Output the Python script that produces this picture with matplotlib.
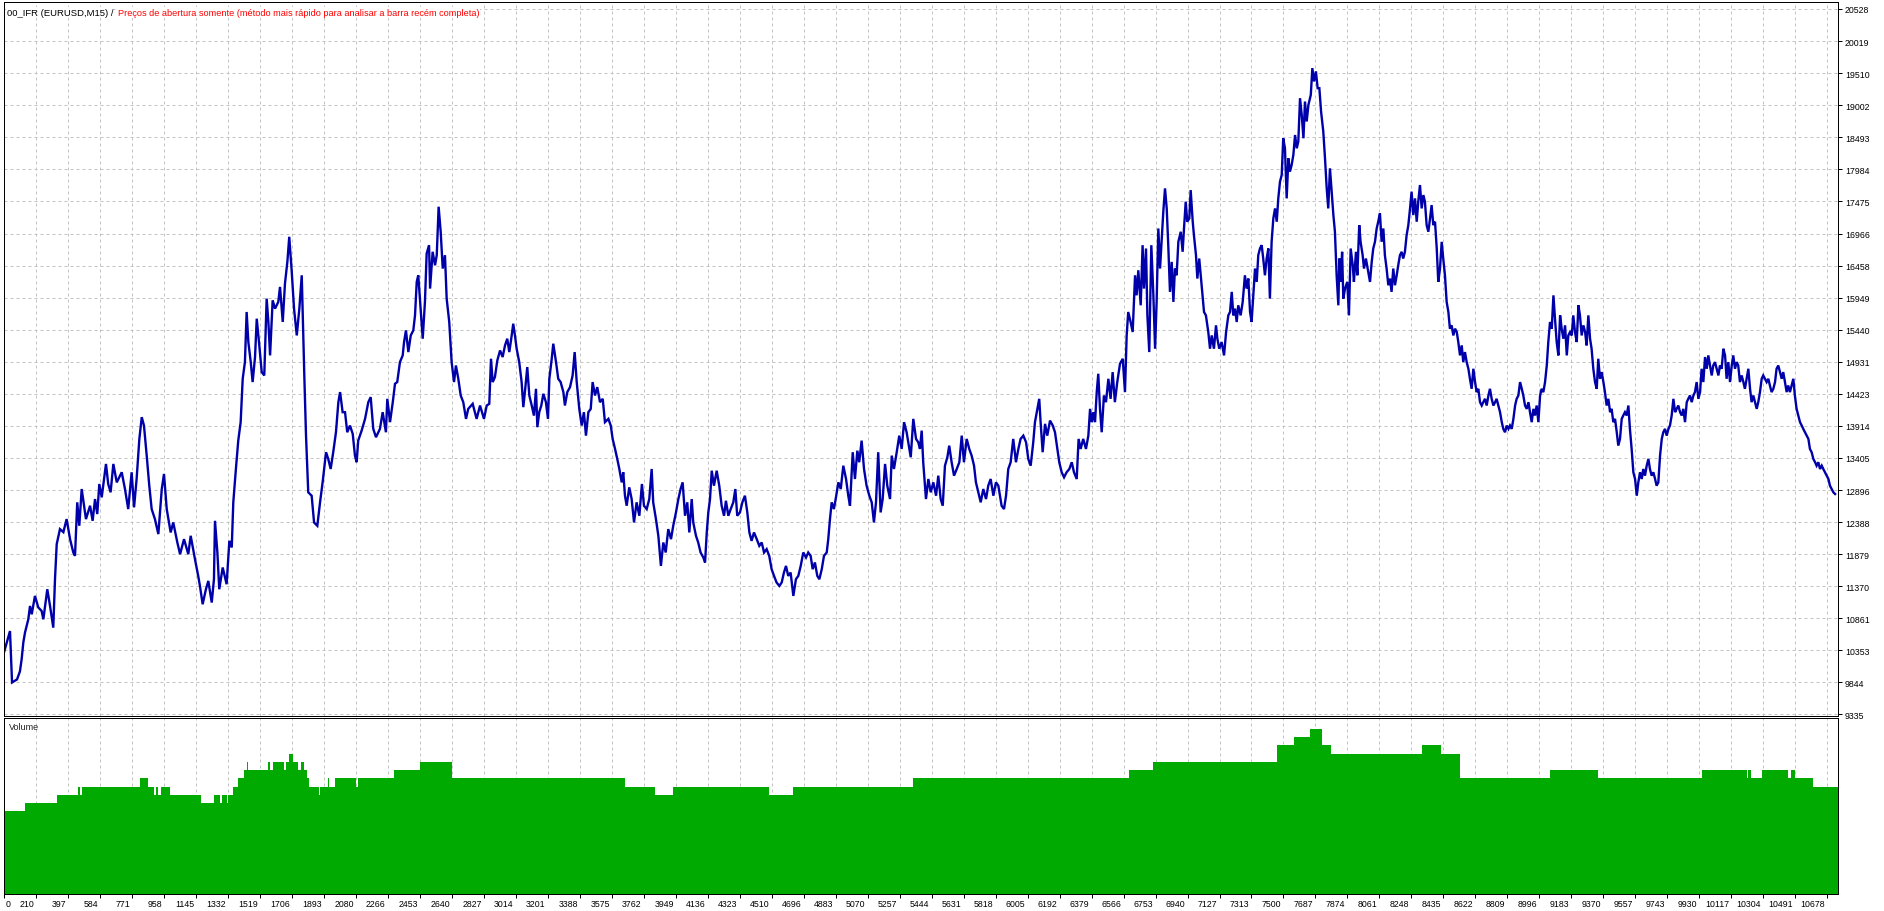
import numpy as np
import matplotlib
matplotlib.use("Agg")
import matplotlib.pyplot as plt
import matplotlib.transforms as mtransforms

# Equity curve: bar number and balance
bars = [
    23, 58, 70, 99, 116, 126, 136, 146, 165, 175,
    185, 204, 223, 243, 253, 276, 292, 311, 321, 331,
    350, 370, 389, 409, 428, 438, 451, 463, 477, 502,
    526, 541, 555, 568, 580, 594, 619, 632, 646, 662,
    682, 711, 730, 749, 769, 783, 798, 814, 828, 841,
    857, 872, 886, 905, 925, 945, 958, 974, 997, 1012,
    1036, 1052, 1075, 1100, 1114, 1139, 1158, 1168, 1184, 1203,
    1217, 1237, 1250, 1256, 1270, 1281, 1301, 1324, 1340, 1354,
    1363, 1379, 1392, 1406, 1418, 1431, 1441, 1451, 1465, 1476,
    1490, 1500, 1515, 1529, 1544, 1558, 1568, 1578, 1593, 1607,
    1626, 1636, 1652, 1665, 1679, 1690, 1704, 1718, 1734, 1749,
    1763, 1772, 1778, 1788, 1801, 1821, 1835, 1854, 1870, 1885,
    1905, 1918, 1932, 1947, 1963, 1977, 1987, 2002, 2016, 2029,
    2045, 2061, 2074, 2084, 2093, 2113, 2133, 2152, 2166, 2181,
    2197, 2220, 2236, 2255, 2263, 2279, 2295, 2308, 2321, 2337,
    2353, 2361, 2372, 2386, 2400, 2415, 2425, 2435, 2444, 2458,
    2470, 2483, 2493, 2507, 2513, 2528, 2542, 2552, 2563, 2575,
    2587, 2600, 2610, 2625, 2639, 2653, 2664, 2678, 2692, 2707,
    2723, 2736,
    2762, 2785, 2805, 2828, 2844, 2859, 2869, 2879, 2892, 2906,
    2922, 2937, 2951, 2964, 2976, 2990, 2999, 3009, 3019, 3034,
    3048, 3058, 3069, 3081, 3093, 3107, 3120, 3132, 3140, 3151,
    3163, 3175, 3190, 3202, 3210, 3224, 3233, 3249, 3262, 3276,
    3292, 3301, 3315, 3331, 3346, 3358, 3370, 3385, 3399, 3412,
    3424, 3438, 3452, 3463, 3477, 3490, 3506, 3522, 3535, 3555,
    3569, 3580, 3594, 3607, 3619, 3633, 3642, 3652, 3662, 3677,
    3691, 3705, 3720, 3736, 3751, 3763, 3779, 3794, 3808, 3817,
    3833, 3847, 3862, 3876, 3890, 3905, 3921, 3934, 3950, 3964,
    3977, 3989, 4003, 4016, 4028, 4042, 4051, 4067, 4080, 4094,
    4110, 4120, 4130, 4139, 4149, 4159, 4172, 4188, 4203, 4217,
    4231, 4242, 4256, 4270, 4285, 4297, 4308, 4324, 4338, 4353,
    4367, 4379, 4392, 4406, 4422, 4437, 4451, 4465, 4480, 4495,
    4509, 4523, 4538, 4554, 4568, 4581, 4593, 4606, 4620, 4636,
    4651, 4665, 4679, 4694, 4710, 4723, 4737, 4749, 4762, 4776,
    4788, 4802, 4815, 4831, 4840, 4850, 4860, 4873, 4885, 4899,
    4913, 4928, 4944, 4957, 4967, 4983, 4996, 5010, 5021, 5035,
    5049, 5064, 5080, 5094, 5107, 5119, 5132, 5146, 5158, 5172,
    5185, 5201, 5211, 5224, 5240, 5255, 5269, 5283, 5298, 5314,
    5322, 5337, 5353, 5366,
    5376, 5386, 5395, 5411, 5425, 5439, 5454, 5470, 5483, 5497,
    5509, 5522, 5536, 5547, 5561, 5575, 5591, 5606, 5620, 5633,
    5649, 5664, 5678, 5692, 5703, 5717, 5731, 5746, 5762, 5775,
    5789, 5805, 5820, 5834, 5853, 5867, 5879, 5892, 5906, 5921,
    5937, 5951, 5964, 5980, 5996, 6009, 6023, 6038, 6048, 6062,
    6073, 6081, 6093, 6107, 6120, 6136, 6152, 6165, 6179, 6190,
    6204, 6218, 6233, 6249, 6263, 6276, 6292, 6303, 6315, 6330,
    6346, 6360, 6370, 6380, 6389, 6399, 6409, 6418, 6428, 6438,
    6451, 6463, 6477, 6490, 6502, 6515, 6529, 6545, 6561, 6574,
    6584, 6593, 6607, 6619, 6633, 6642, 6652, 6666, 6677, 6685,
    6697, 6705, 6716, 6728, 6740, 6750, 6759, 6769, 6779, 6788,
    6798, 6808, 6818, 6827, 6837, 6847, 6857, 6866, 6876, 6886,
    6900, 6911, 6919, 6929, 6938, 6950, 6958, 6970, 6977, 6989,
    6997, 7008, 7022, 7036, 7047, 7061, 7071, 7081, 7094, 7106,
    7114, 7125, 7139, 7153, 7165, 7178, 7188, 7198, 7207, 7217,
    7227, 7236, 7250, 7262, 7275, 7285, 7295, 7305, 7314, 7324,
    7334, 7344, 7353, 7363, 7373, 7382, 7392, 7402, 7412, 7421,
    7431, 7441, 7451, 7461, 7470, 7480, 7490, 7499, 7509, 7519,
    7529, 7538, 7548, 7558, 7568, 7578, 7587, 7597, 7607, 7617,
    7626, 7636, 7646, 7660, 7669, 7679, 7690, 7700, 7710, 7720,
    7733, 7743, 7753, 7762, 7772, 7782, 7792, 7801, 7811, 7821,
    7827, 7835, 7843, 7850, 7860, 7873, 7883, 7893, 7905, 7912,
    7924, 7932, 7943, 7951, 7963, 7971, 7982, 7996, 8006, 8016,
    8025, 8035, 8045, 8054, 8064,
    8074, 8084, 8093, 8103, 8113, 8123, 8132, 8142, 8152, 8162,
    8171, 8181, 8191, 8200, 8210, 8220, 8230, 8240, 8249, 8259,
    8269, 8279, 8288, 8298, 8308, 8318, 8327, 8337, 8347, 8357,
    8366, 8376, 8386, 8396, 8405, 8415, 8425, 8434, 8444, 8454,
    8464, 8473, 8483, 8493, 8503, 8513, 8522, 8532, 8542, 8551,
    8561, 8571, 8581, 8590, 8600, 8610, 8620, 8629, 8639, 8649,
    8659, 8668, 8678, 8688, 8698, 8707, 8717, 8727, 8737, 8746,
    8756, 8766, 8776, 8785, 8795, 8805, 8815, 8824, 8834, 8844,
    8854, 8863, 8873, 8883, 8893, 8902, 8912, 8922, 8932, 8941,
    8951, 8961, 8970, 8980, 8990, 9000, 9009, 9019, 9029, 9039,
    9048, 9058, 9068, 9078, 9087, 9097, 9107, 9117, 9126, 9136,
    9146, 9156, 9165, 9175, 9185, 9194, 9204, 9214, 9224, 9233,
    9243, 9253, 9263, 9272, 9282, 9292, 9301, 9311, 9321, 9331,
    9340, 9350, 9360, 9370, 9379, 9389, 9399, 9409, 9418, 9428,
    9438, 9448, 9457, 9467, 9477, 9486, 9496, 9506, 9516, 9525,
    9535, 9545, 9555, 9565, 9574, 9584, 9594, 9603, 9613, 9623,
    9633, 9642, 9652, 9662, 9672, 9681, 9691, 9701, 9711, 9720,
    9730, 9740, 9750, 9759, 9769, 9779, 9789, 9798, 9808, 9818,
    9828, 9837, 9847, 9857, 9866, 9876, 9886, 9896, 9905, 9915,
    9925, 9935, 9944, 9954, 9964, 9974, 9983, 9993, 10003, 10012,
    10022, 10032, 10042, 10051, 10061, 10071, 10081, 10090, 10100, 10110,
    10120, 10129, 10139, 10149, 10158, 10168, 10178, 10188, 10197, 10207,
    10217, 10227, 10236, 10246, 10256, 10266, 10275, 10285, 10295, 10304,
    10314, 10324, 10334, 10343, 10353, 10363, 10373, 10382, 10392, 10402,
    10412, 10421, 10431, 10441, 10450, 10460, 10470, 10480, 10489, 10499,
    10509, 10519, 10529, 10538, 10548, 10558, 10568, 10577, 10587, 10597,
    10607, 10616, 10626, 10636, 10646, 10655, 10665, 10675, 10685, 10694,
    10704, 10714, 10724,
]

equity = [
    10320, 10659, 9843, 9891, 10018, 10209, 10479, 10638, 10845, 11057,
    10925, 11216, 11036, 10977, 10845, 11322, 11057, 10713, 11481, 12037,
    12276, 12228, 12435, 12117, 11905, 11852, 12701, 12329, 12912, 12435,
    12647, 12408, 12753, 12515, 12992, 12780, 13310, 12992, 12860, 13310,
    13018, 13178, 12912, 12594, 13178, 12621, 13071, 13707, 14052, 13919,
    13442, 12965, 12594, 12435, 12197, 12912, 13151, 12594, 12223, 12382,
    12064, 11878, 12117, 11878, 12170, 11799, 11533, 11375, 11084, 11322,
    11454, 11111, 11481, 12408, 11905, 11322, 11667, 11402, 12090, 11985,
    12701, 13257, 13680, 13972, 14661, 14926, 15721, 15244, 14926, 14609,
    15006, 15615, 15191, 14768, 14714, 15933, 15563, 15032, 15906, 15774,
    15881, 16119, 15563, 16172, 16516, 16914, 16383, 15774, 15349, 15774,
    16303, 15349, 14714, 13759, 12860, 12806, 12382, 12329, 12701, 13018,
    13496, 13389, 13230, 13496, 13813, 14290, 14450, 14131, 14131, 13813,
    13919, 13787, 13442, 13337, 13680, 13839, 14025, 14290, 14370, 13866,
    13734, 13866, 14131, 13813, 14343, 13973, 14290, 14582, 14609, 14926,
    15032, 15244, 15429, 15085, 15349, 15429, 15667, 16199, 16303, 15774,
    15297, 15881, 16648, 16781, 16092, 16676, 16462, 16622, 17391, 16994,
    16410, 16622, 15933, 15563, 14926, 14609, 14872, 14661, 14396, 14290,
    14025, 14184,
    14264, 14025, 14237, 14025, 14237, 14264, 14979, 14609, 14688, 14952,
    15111, 15006, 15191, 15297, 15085, 15349, 15535, 15349, 15138, 14926,
    14609, 14211, 14502, 14847, 14396, 14237, 14077, 14502, 13893, 14131,
    14237, 14423, 14290, 14025, 14661, 14979, 15218, 14926, 14661, 14609,
    14450, 14237, 14450, 14529, 14714, 15085, 14609, 14184, 13919, 14131,
    13759, 14131, 14184, 14609, 14396, 14529, 14290, 14343, 13973, 14025,
    13919, 13707, 13548, 13389, 13230, 13018, 13178, 12806, 12647, 12939,
    12753, 12382, 12701, 12488, 12992, 12647, 12594, 12753, 13230, 12701,
    12435, 12170, 11692, 12064, 11905, 12276, 12117, 12329, 12541, 12753,
    12912, 13018, 12488, 12701, 12223, 12753, 12382, 12170, 12064, 11905,
    11826, 11747, 12223, 12541, 12753, 13203, 12965, 13203, 12965, 12647,
    12488, 12726, 12488, 12594, 12701, 12912, 12488, 12541, 12701, 12806,
    12541, 12223, 12090, 12223, 12117, 12011, 12064, 11905, 11958, 11852,
    11640, 11534, 11429, 11375, 11429, 11587, 11692, 11534, 11587, 11216,
    11481, 11534, 11692, 11905, 11826, 11905, 11852, 11640, 11747, 11534,
    11481, 11640, 11852, 11905, 12117, 12435, 12701, 12594, 12780, 13018,
    12912, 13282, 13071, 12806, 12647, 13496, 13071, 13521, 13337, 13680,
    13230, 12965, 12806, 12701, 12382, 12701, 13496, 12541, 12753, 13310,
    12965, 12753, 13442, 13230, 13496, 13759, 13548, 13973, 13813, 13548,
    13416, 14025, 13707, 13654,
    13548, 13839, 13337, 12753, 13071, 12860, 13018, 12806, 13124, 12753,
    12647, 13282, 13416, 13600, 13337, 13124, 13230, 13337, 13759, 13337,
    13707, 13548, 13442, 13282, 13018, 12860, 12701, 12912, 12753, 12965,
    13071, 12806, 13018, 12965, 12647, 12594, 12806, 13230, 13337, 13707,
    13337, 13548, 13707, 13759, 13654, 13389, 13282, 13654, 13973, 14184,
    14343, 13973, 13496, 13946, 13759, 13998, 13919, 13813, 13548, 13337,
    13178, 13098, 13178, 13230, 13337, 13178, 13071, 13707, 13548, 13707,
    13548, 13759, 14184, 13973, 14131, 13973, 14450, 14741, 14184, 13813,
    14396, 14290, 14661, 14343, 14767, 14290, 14609, 14900, 14979, 14450,
    15349, 15721, 15562, 15403, 16303, 15985, 16383, 15827, 16781, 16092,
    16728, 15667, 15085, 16781, 15985, 15138, 15881, 17046, 16410, 16835,
    17312, 17682, 17364, 16781, 16040, 16516, 15881, 16410, 16303, 16835,
    16994, 16676, 17046, 17471, 17153, 17205, 17655, 17153, 16940, 16622,
    16251, 16569, 16145, 15721, 15667, 15403, 15138, 15349, 15138, 15509,
    15297, 15138, 15244, 15032, 15403, 15667, 15721, 16040, 15667, 15774,
    15562, 15827, 15667, 15881, 16303, 16092, 16251, 15721, 15562, 15985,
    16410, 16198, 16622, 16728, 16781, 16569, 16303, 16569, 16728, 15933,
    16834, 17205, 17364, 17153, 17523, 17789, 17894, 18477, 18318, 17523,
    18159, 17947, 18053, 18212, 18529, 18318, 18425, 19113, 18847, 18477,
    19060, 18743, 19006, 19165, 19590, 19379, 19538, 19272, 19272, 18902,
    18584, 18159, 17682, 17364, 18000, 17630, 17258, 16994, 16303, 15827,
    16569, 16198, 16676, 15933, 16092, 16198, 15667, 16728, 16462, 16198,
    16676, 16303, 17099, 16834, 16622, 16410, 16569, 16357, 16198, 16516,
    16728, 16834, 17046, 17153, 17285,
    16835, 17046, 16622, 16410, 16145, 16251, 16040, 16410, 16145, 16303,
    16462, 16622, 16675, 16569, 16675, 16940, 17099, 17364, 17630, 17258,
    17523, 17153, 17471, 17735, 17364, 17576, 17471, 17099, 16994, 17205,
    17417, 17099, 17153, 16728, 16198, 16410, 16834, 16569, 16303, 15881,
    15721, 15456, 15509, 15349, 15456, 15403, 15244, 15032, 15191, 14926,
    15085, 14926, 14820, 14661, 14502, 14820, 14609, 14450, 14502, 14290,
    14237, 14290, 14343, 14237, 14396, 14502, 14343, 14237, 14290, 14343,
    14237, 14131, 13973, 13866, 13813, 13919, 13866, 13919, 13866, 14025,
    14237, 14343, 14396, 14609, 14502, 14396, 14237, 14184, 14290, 14131,
    13973, 14184, 14078, 14237, 13973, 14396, 14502, 14449, 14609, 14872,
    15244, 15562, 15456, 15985, 15615, 15244, 15032, 15667, 15456, 15297,
    15509, 15032, 15349, 15403, 15349, 15667, 15403, 15244, 15827, 15667,
    15349, 15509, 15403, 15191, 15667, 15297, 15138, 14820, 14609, 14502,
    14979, 14661, 14767, 14609, 14450, 14237, 14343, 14131, 14184, 13973,
    14025, 13813, 13601, 13707, 14025, 14078, 14131, 14078, 14237, 13866,
    13548, 13178, 13071, 12806, 13018, 13178, 13071, 13230, 13124, 13282,
    13389, 13230, 13124, 13178, 13071, 12965, 13018, 13442, 13707, 13813,
    13866, 13759, 13866, 13919, 14078, 14343, 14131, 14184, 14237, 14131,
    14078, 14184, 13973, 14290, 14343, 14396, 14290, 14396, 14450, 14609,
    14343, 14450, 14820, 14609, 15006, 14820, 15032, 14872, 14714, 14872,
    14926, 14820, 14714, 14872, 14820, 15138, 15032, 14661, 14926, 14609,
    14872, 15032, 14820, 14926, 14872, 14609, 14714, 14609, 14502, 14661,
    14820, 14502, 14290, 14396, 14290, 14184, 14290, 14450, 14661, 14714,
    14661, 14609, 14661, 14555, 14450, 14502, 14609, 14820, 14872, 14767,
    14661, 14767, 14609, 14450, 14555, 14450, 14555, 14661, 14396, 14184,
    14078, 13973, 13919, 13866, 13813, 13759, 13707, 13548, 13496, 13389,
    13337, 13282, 13337, 13230, 13282, 13230, 13178, 13124, 13071, 12965,
    12912, 12860, 12833,
]

# Volume subwindow: bar where each level starts (last entry closes the run)
vol_edges = [
    23, 146, 334, 457, 469, 477, 818, 863, 900, 911,
    925, 941, 993, 1174, 1250, 1285, 1299, 1324, 1334, 1360,
    1392, 1427, 1445, 1451, 1568, 1578, 1597, 1661, 1669, 1687,
    1710, 1739, 1759, 1776, 1792, 1807, 1866, 1870, 1915, 1924,
    1957, 2080, 2094, 2304, 2454, 2641, 3652, 3827, 3933, 4494,
    4634, 5335, 6597, 6738, 7464, 7562, 7653, 7724, 7779, 8310,
    8420, 8531, 9058, 9338, 9944, 10207, 10217, 10231, 10295, 10447,
    10464, 10490, 10593, 10739,
]
vol_levels = [
    10, 11, 12, 13, 12, 13, 14, 13, 12, 13,
    12, 13, 12, 11, 12, 11, 12, 11, 12, 13,
    14, 15, 16, 15, 16, 15, 16, 15, 16, 17,
    16, 15, 16, 15, 14, 13, 12, 13, 14, 13,
    14, 13, 14, 15, 16, 14, 13, 12, 13, 12,
    13, 14, 15, 16, 18, 19, 20, 18, 17, 18,
    17, 14, 15, 14, 15, 14, 15, 14, 15, 14,
    15, 14, 13,
]

price_ticks = [9335, 9844, 10353, 10861, 11370, 11879, 12388, 12896, 13405,
               13914, 14423, 14931, 15440, 15949, 16458, 16966, 17475, 17984,
               18493, 19002, 19510, 20019, 20528]
bar_ticks = [0, 210, 397, 584, 771, 958, 1145, 1332, 1519, 1706, 1893, 2080,
             2266, 2453, 2640, 2827, 3014, 3201, 3388, 3575, 3762, 3949, 4136,
             4323, 4510, 4696, 4883, 5070, 5257, 5444, 5631, 5818, 6005, 6192,
             6379, 6566, 6753, 6940, 7127, 7313, 7500, 7687, 7874, 8061, 8248,
             8435, 8622, 8809, 8996, 9183, 9370, 9557, 9743, 9930, 10117, 10304,
             10491, 10678]

title_main = "00_IFR (EURUSD,M15) /"
title_note = "Preços de abertura somente (método mais rápido para analisar a barra recém completa)"

plt.rcParams["font.family"] = "Liberation Sans"
plt.rcParams["axes.linewidth"] = 0.72

W, H = 1884, 912
fig = plt.figure(figsize=(W / 100, H / 100), dpi=100)
fig.patch.set_facecolor("white")

def px_axes(x0, y0, x1, y1):
    return fig.add_axes([x0 / W, 1 - y1 / H, (x1 - x0) / W, (y1 - y0) / H])

ax = px_axes(4, 3, 1838, 717)
axv = px_axes(4, 719, 1838, 895)

xmin, xmax = 23, 10741
grid_kw = dict(color="#c4c4c4", linestyle=(0, (3, 3)), linewidth=0.72)

# ---- equity panel
ax.plot(bars, equity, color="#0000aa", lw=1.7, solid_joinstyle="miter")
ax.set_xlim(xmin, xmax)
ax.set_ylim(9311, 20639)
ax.yaxis.tick_right()
ax.set_yticks(price_ticks)
ax.set_yticklabels([str(v) for v in price_ticks])
ax.tick_params(axis="y", direction="out", length=3, width=0.72, pad=2,
               labelsize=6.3, colors="black")
xpos = [xmin] + bar_ticks[1:]
ax.set_xticks(xpos)
ax.tick_params(axis="x", length=0, labelbottom=False)
ax.grid(True, **grid_kw)
ax.set_axisbelow(True)
for s in ax.spines.values():
    s.set_color("black")

# ---- volume panel
axv.stairs(vol_levels, vol_edges, fill=True, color="#00aa00", linewidth=0)
axv.set_xlim(xmin, xmax)
axv.set_ylim(0, 21.33)
axv.set_yticks([])
axv.set_xticks(xpos)
axv.set_xticklabels([str(v) for v in bar_ticks])
axv.tick_params(axis="x", direction="out", length=3, width=0.72, pad=0.5,
                labelsize=6.3, colors="black")
axv.grid(True, axis="x", **grid_kw)
axv.set_axisbelow(True)
for s in axv.spines.values():
    s.set_color("black")

# MT4 puts the bar number just left of its tick
shift_l = mtransforms.ScaledTranslation(-2 / 100, 0, fig.dpi_scale_trans)
shift_r = mtransforms.ScaledTranslation(2 / 100, 0, fig.dpi_scale_trans)
for i, lbl in enumerate(axv.get_xticklabels()):
    if i == 0:
        lbl.set_ha("left")
        lbl.set_transform(lbl.get_transform() + shift_r)
    else:
        lbl.set_ha("right")
        lbl.set_transform(lbl.get_transform() + shift_l)

# ---- titles
t1 = fig.text(7 / W, 1 - 13.5 / H, title_main, fontsize=6.8, color="black",
              va="center", ha="left",
              bbox=dict(facecolor="white", edgecolor="none", pad=0.5))
ax.annotate(title_note, xy=(1, 0.5), xycoords=t1, xytext=(3, 0),
            textcoords="offset points", va="center", ha="left",
            fontsize=6.55, color="#ff0000", annotation_clip=False,
            bbox=dict(facecolor="white", edgecolor="none", pad=0.5))
fig.text(9 / W, 1 - 728 / H, "Volume", fontsize=6.5, color="#202020",
         va="center", ha="left")

fig.savefig("out.png", dpi=100, facecolor="white")
